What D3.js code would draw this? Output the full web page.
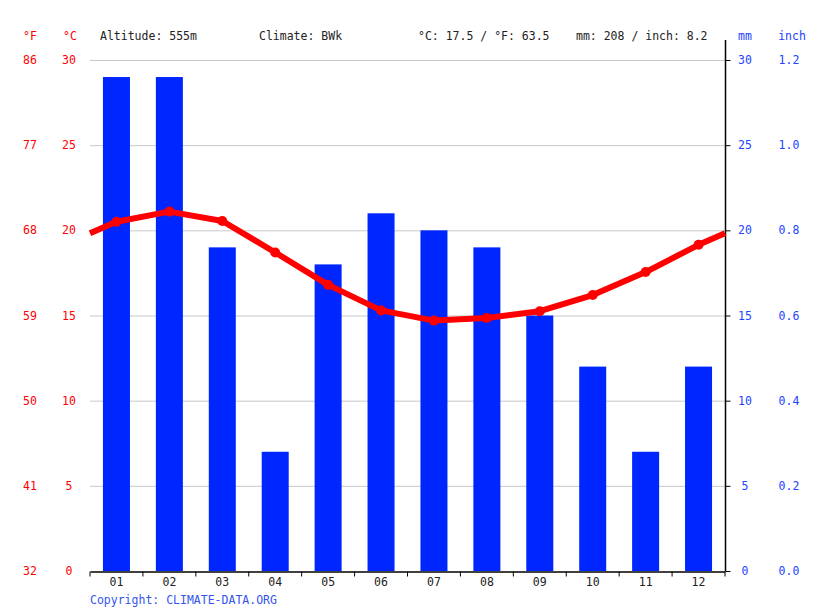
<!DOCTYPE html>
<html>
<head>
<meta charset="utf-8">
<script src="https://cdn.jsdelivr.net/npm/d3@7"></script>
<style>
  body { margin: 0; background: #fff; }
  text { font-family: "DejaVu Sans Mono", monospace; font-size: 11.5px; }
</style>
</head>
<body>
<script>
'use strict';

// chart data
const months = ["01", "02", "03", "04", "05", "06", "07", "08", "09", "10", "11", "12"];
const precipMm = [29, 29, 19, 7, 18, 21, 20, 19, 15, 12, 7, 12];
const tempC = [20.5, 21.1, 20.55, 18.7, 16.8, 15.3, 14.7, 14.85, 15.25, 16.2, 17.55, 19.15];
const celsiusTicks = [0, 5, 10, 15, 20, 25, 30];
const fahrenheitLabels = ["32", "41", "50", "59", "68", "77", "86"];
const mmTicks = [0, 5, 10, 15, 20, 25, 30];
const inchLabels = ["0.0", "0.2", "0.4", "0.6", "0.8", "1.0", "1.2"];

(function() {
  let left = 90, right = 725, top = 60, bottom = 571;

  let svg = d3.select('body')
    .append('svg')
    .attr('width', 815)
    .attr('height', 611);

  // x band scale for months
  let xScale = d3.scaleBand()
    .domain(months)
    .range([left, right]);

  // both axes share 0..30
  let yScale = d3.scaleLinear()
    .domain([0, 30])
    .range([bottom, top]);

  // grid lines
  svg.append('g').selectAll('line')
    .data(celsiusTicks.filter((d) => d > 0))
    .enter()
    .append('line')
      .attr('x1', left)
      .attr('x2', right)
      .attr('y1', (d) => yScale(d) + 0.5)
      .attr('y2', (d) => yScale(d) + 0.5)
      .attr('stroke', '#c8c8c8')
      .attr('stroke-width', 1);

  // precipitation bars
  let barW = 27;
  svg.append('g').selectAll('rect')
    .data(precipMm)
    .enter()
    .append('rect')
      .attr('x', (d, i) => xScale(months[i]) + xScale.bandwidth() / 2 - barW / 2)
      .attr('y', (d) => yScale(d))
      .attr('width', barW)
      .attr('height', (d) => bottom - yScale(d))
      .attr('fill', '#0026ff');

  // x axis with ticks between months
  let xAxis = d3.axisBottom(xScale).tickSize(0).tickPadding(6);
  let gx = svg.append('g')
    .attr('transform', 'translate(0,' + (bottom + 0.5) + ')')
    .call(xAxis);
  gx.select('.domain').attr('stroke', '#000').attr('stroke-width', 1.5);
  gx.selectAll('text').attr('fill', '#222').style('font-size', '11.5px');
  let bounds = months.map((m) => xScale(m)).concat([right]);
  gx.selectAll('.bound')
    .data(bounds)
    .enter()
    .append('line')
      .attr('x1', (d) => d)
      .attr('x2', (d) => d)
      .attr('y1', 0)
      .attr('y2', 5)
      .attr('stroke', '#000');

  // right axis
  let yAxisRight = d3.axisRight(yScale).tickValues(mmTicks).tickSize(5).tickFormat('');
  let gy = svg.append('g')
    .attr('transform', 'translate(' + (right + 0.5) + ',0)')
    .call(yAxisRight);
  gy.select('.domain').remove();
  gy.append('line')
    .attr('x1', 0).attr('x2', 0)
    .attr('y1', 40).attr('y2', bottom)
    .attr('stroke', '#000').attr('stroke-width', 1.5);

  // left labels (°F, °C)
  svg.append('g').selectAll('text')
    .data(celsiusTicks)
    .enter()
    .append('text')
      .attr('x', 69)
      .attr('y', (d) => yScale(d) + 4)
      .attr('text-anchor', 'middle')
      .attr('fill', '#ff0000')
      .text((d) => d);
  svg.append('g').selectAll('text')
    .data(fahrenheitLabels)
    .enter()
    .append('text')
      .attr('x', 30)
      .attr('y', (d, i) => yScale(celsiusTicks[i]) + 4)
      .attr('text-anchor', 'middle')
      .attr('fill', '#ff0000')
      .text((d) => d);

  // right labels (mm, inch)
  svg.append('g').selectAll('text')
    .data(mmTicks)
    .enter()
    .append('text')
      .attr('x', 745)
      .attr('y', (d) => yScale(d) + 4)
      .attr('text-anchor', 'middle')
      .attr('fill', '#2244ff')
      .text((d) => d);
  svg.append('g').selectAll('text')
    .data(inchLabels)
    .enter()
    .append('text')
      .attr('x', 789)
      .attr('y', (d, i) => yScale(mmTicks[i]) + 4)
      .attr('text-anchor', 'middle')
      .attr('fill', '#2244ff')
      .text((d) => d);

  // temperature line, wrapped to the plot edges
  let edgeVal = (tempC[0] + tempC[11]) / 2;
  let pts = [[left, yScale(edgeVal)]]
    .concat(tempC.map((d, i) => [xScale(months[i]) + xScale.bandwidth() / 2, yScale(d)]))
    .concat([[right, yScale(edgeVal)]]);
  let line = d3.line();
  svg.append('path')
    .attr('d', line(pts))
    .attr('fill', 'none')
    .attr('stroke', '#ff0000')
    .attr('stroke-width', 6)
    .attr('stroke-linejoin', 'round');
  svg.append('g').selectAll('circle')
    .data(tempC)
    .enter()
    .append('circle')
      .attr('cx', (d, i) => xScale(months[i]) + xScale.bandwidth() / 2)
      .attr('cy', (d) => yScale(d))
      .attr('r', 5)
      .attr('fill', '#ff0000');

  // header
  let header = [
    {x: 30, t: '°F', c: '#ff0000', a: 'middle'},
    {x: 70, t: '°C', c: '#ff0000', a: 'middle'},
    {x: 100, t: 'Altitude: 555m', c: '#222', a: 'start'},
    {x: 259, t: 'Climate: BWk', c: '#222', a: 'start'},
    {x: 418, t: '°C: 17.5 / °F: 63.5', c: '#222', a: 'start'},
    {x: 576, t: 'mm: 208 / inch: 8.2', c: '#222', a: 'start'},
    {x: 745, t: 'mm', c: '#2244ff', a: 'middle'},
    {x: 792, t: 'inch', c: '#2244ff', a: 'middle'}
  ];
  svg.append('g').selectAll('text')
    .data(header)
    .enter()
    .append('text')
      .attr('x', (d) => d.x)
      .attr('y', 40)
      .attr('text-anchor', (d) => d.a)
      .attr('fill', (d) => d.c)
      .text((d) => d.t);

  svg.append('text')
    .attr('x', 90)
    .attr('y', 604)
    .attr('fill', '#3355ee')
    .text('Copyright: CLIMATE-DATA.ORG');
})();
</script>
</body>
</html>
